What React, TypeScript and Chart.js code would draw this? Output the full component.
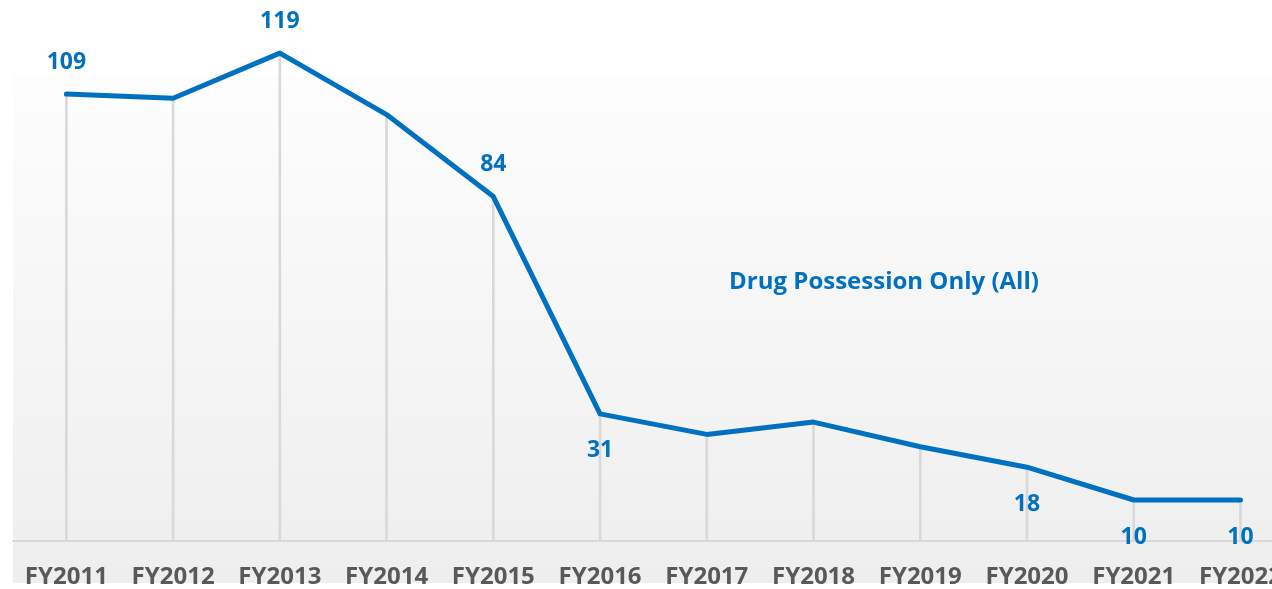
import React, { useEffect, useRef } from "react";
import { Chart, registerables } from "chart.js";

Chart.register(...registerables);

const categories = ["FY2011", "FY2012", "FY2013", "FY2014", "FY2015", "FY2016", "FY2017", "FY2018", "FY2019", "FY2020", "FY2021", "FY2022"];
const values = [109, 108, 119, 104, 84, 31, 26, 29, 23, 18, 10, 10];
const labelPlacement = ["above", "", "above", "", "above", "below", "", "", "", "below", "below", "below"];
const seriesTitle = "Drug Possession Only (All)";

const BLUE = "#0070C0";
const FONT = "'Open Sans', 'Liberation Sans', sans-serif";

const bgPlugin = {
  id: "bgPanel",
  beforeDraw(chart: any) {
    const ctx = chart.ctx;
    ctx.save();
    ctx.fillStyle = "#ffffff";
    ctx.fillRect(0, 0, chart.width, chart.height);
    const g = ctx.createLinearGradient(0, 75, 0, 583);
    g.addColorStop(0, "#fdfdfd");
    g.addColorStop(1, "#eeeeee");
    ctx.fillStyle = g;
    ctx.fillRect(13, 75, chart.width - 13, 583 - 75);
    ctx.restore();
  },
};

const labelPlugin = {
  id: "valueLabels",
  afterDatasetsDraw(chart: any) {
    const ctx = chart.ctx;
    const meta = chart.getDatasetMeta(1);
    ctx.save();
    ctx.fillStyle = BLUE;
    ctx.font = `bold 23px ${FONT}`;
    ctx.textAlign = "center";
    ctx.textBaseline = "middle";
    meta.data.forEach((pt: any, i: number) => {
      const p = labelPlacement[i];
      if (!p) return;
      const dy = p === "above" ? -32 : 37;
      ctx.fillText(String(values[i]), pt.x, pt.y + dy);
    });
    ctx.font = `bold 24px ${FONT}`;
    ctx.fillText(seriesTitle, 884, 282);
    ctx.restore();
  },
};

export default function App() {
  const ref = useRef<HTMLCanvasElement | null>(null);
  useEffect(() => {
    if (!ref.current) return;
    const chart = new Chart(ref.current, {
      type: "bar",
      data: {
        labels: categories,
        datasets: [
          {
            type: "bar",
            data: values,
            backgroundColor: "#d9d9d9",
            barThickness: 2,
            order: 2,
          } as any,
          {
            type: "line",
            data: values,
            borderColor: BLUE,
            borderWidth: 5,
            pointRadius: 0,
            tension: 0,
            borderCapStyle: "round",
            borderJoinStyle: "round",
            order: 1,
          } as any,
        ],
      },
      options: {
        responsive: false,
        animation: false,
        devicePixelRatio: 1,
        layout: { padding: { left: 13, right: 0, top: 8, bottom: 0 } },
        plugins: { legend: { display: false }, tooltip: { enabled: false } },
        scales: {
          x: {
            offset: true,
            grid: { display: true, color: "rgba(0,0,0,0)", drawTicks: false },
            border: { display: true, color: "#d9d9d9", width: 2 },
            ticks: {
              autoSkip: false,
              maxRotation: 0,
              padding: 22,
              color: "#595959",
              font: { family: FONT, size: 24, weight: "bold" },
            },
            afterFit: (s: any) => {
              s.height = 48;
            },
          },
          y: { display: false, min: 0, max: 130 },
        },
      },
      plugins: [bgPlugin, labelPlugin],
    });
    return () => chart.destroy();
  }, []);
  return (
    <div style={{ position: "fixed", left: 0, top: 0, width: 1272, height: 589, overflow: "hidden", background: "#fff" }}>
      <canvas ref={ref} width={1304} height={589} style={{ display: "block" }} />
    </div>
  );
}
